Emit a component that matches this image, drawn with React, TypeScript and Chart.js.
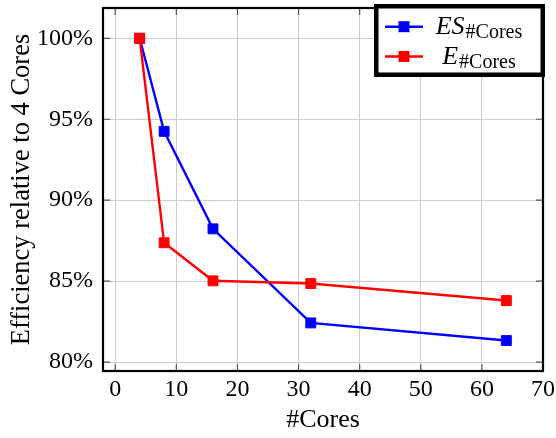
import React, { useEffect, useRef } from 'react';
import { Chart, registerables } from 'chart.js';

Chart.register(...registerables);

// ---- data ----
const cores = [4, 8, 16, 32, 64];
const esValues = [100, 94.25, 88.23, 82.42, 81.33];
const eValues = [100, 87.37, 85.02, 84.85, 83.8];
const xTicks = [0, 10, 20, 30, 40, 50, 60, 70];
const yTicks = [80, 85, 90, 95, 100];
const seriesMain = ['ES', 'E'];
const seriesSub = '#Cores';
const seriesColors = ['#0000ff', '#ff0000'];
const xTitle = '#Cores';
const yTitle = 'Efficiency relative to 4 Cores';

const FONT = "'Liberation Serif', 'Times New Roman', serif";

const framePlugin = {
  id: 'pgfFrame',
  beforeDatasetsDraw(chart: any) {
    const { ctx, chartArea: a, scales } = chart;
    ctx.save();
    ctx.strokeStyle = '#555';
    ctx.lineWidth = 1.2;
    const tl = 7;
    ctx.beginPath();
    for (const v of xTicks) {
      const px = scales.x.getPixelForValue(v);
      if (px <= a.left + 1 || px >= a.right - 1) continue;
      ctx.moveTo(px, a.bottom); ctx.lineTo(px, a.bottom - tl);
      ctx.moveTo(px, a.top); ctx.lineTo(px, a.top + tl);
    }
    for (const v of yTicks) {
      const py = scales.y.getPixelForValue(v);
      ctx.moveTo(a.left, py); ctx.lineTo(a.left + tl, py);
      ctx.moveTo(a.right, py); ctx.lineTo(a.right - tl, py);
    }
    ctx.stroke();
    ctx.restore();
  },
  afterDatasetsDraw(chart: any) {
    const { ctx, chartArea: a } = chart;
    ctx.save();
    ctx.strokeStyle = '#000';
    ctx.lineWidth = 2.2;
    ctx.strokeRect(a.left, a.top, a.right - a.left, a.bottom - a.top);
    ctx.restore();
  },
};

const legendPlugin = {
  id: 'texLegend',
  afterDraw(chart: any) {
    const { ctx } = chart;
    ctx.save();
    const x0 = 374, y0 = 4, x1 = 545, y1 = 77;
    const bw = 4.5;
    ctx.fillStyle = '#fff';
    ctx.fillRect(x0, y0, x1 - x0, y1 - y0);
    ctx.strokeStyle = '#000';
    ctx.lineWidth = bw;
    ctx.strokeRect(x0 + bw / 2, y0 + bw / 2, x1 - x0 - bw, y1 - y0 - bw);
    const rows = [26.7, 56.5];
    chart.data.datasets.forEach((ds: any, i: number) => {
      const ry = rows[i];
      ctx.strokeStyle = ds.borderColor;
      ctx.lineWidth = 2.4;
      ctx.beginPath();
      ctx.moveTo(385, ry);
      ctx.lineTo(423, ry);
      ctx.stroke();
      ctx.fillStyle = ds.borderColor;
      ctx.fillRect(404 - 5.5, ry - 5.5, 11, 11);
      const mainFont = `italic 26px ${FONT}`;
      const subFont = `20px ${FONT}`;
      ctx.font = mainFont;
      const mw = ctx.measureText(seriesMain[i]).width + 1;
      ctx.font = subFont;
      const sw = ctx.measureText(seriesSub).width;
      const start = 479 - (mw + sw) / 2;
      ctx.fillStyle = '#000';
      ctx.textBaseline = 'alphabetic';
      ctx.textAlign = 'left';
      ctx.font = mainFont;
      ctx.fillText(seriesMain[i], start, ry + 7.5);
      ctx.font = subFont;
      ctx.fillText(seriesSub, start + mw, ry + 11);
    });
    ctx.restore();
  },
};

export default function App() {
  const ref = useRef<HTMLCanvasElement | null>(null);
  useEffect(() => {
    document.body.style.margin = '0';
    const canvas = ref.current!;
    const chart = new Chart(canvas, {
      type: 'line',
      data: {
        datasets: [
          {
            label: seriesMain[0],
            data: cores.map((c, i) => ({ x: c, y: esValues[i] })),
            borderColor: seriesColors[0],
            backgroundColor: seriesColors[0],
            pointBackgroundColor: seriesColors[0],
            pointBorderColor: seriesColors[0],
            borderWidth: 2.4,
            pointStyle: 'rect',
            pointRadius: 7,
            pointBorderWidth: 1,
            tension: 0,
            order: 1,
          },
          {
            label: seriesMain[1],
            data: cores.map((c, i) => ({ x: c, y: eValues[i] })),
            borderColor: seriesColors[1],
            backgroundColor: seriesColors[1],
            pointBackgroundColor: seriesColors[1],
            pointBorderColor: seriesColors[1],
            borderWidth: 2.4,
            pointStyle: 'rect',
            pointRadius: 7,
            pointBorderWidth: 1,
            tension: 0,
            order: 0,
          },
        ],
      },
      options: {
        animation: false,
        responsive: false,
        devicePixelRatio: 1,
        layout: { padding: { top: 2, right: 13, left: 0, bottom: 0 } },
        plugins: { legend: { display: false }, tooltip: { enabled: false } },
        scales: {
          x: {
            type: 'linear',
            min: -2,
            max: 70,
            afterBuildTicks: (s: any) => { s.ticks = xTicks.map((v) => ({ value: v })); },
            afterFit: (s: any) => { s.height = 67; s.paddingLeft = 0; s.paddingRight = 0; },
            grid: { color: '#cccccc', lineWidth: 1, drawTicks: false },
            border: { display: false },
            ticks: {
              color: '#000',
              padding: 4,
              maxRotation: 0,
              font: { family: FONT, size: 24 },
              callback: (v: any) => String(v),
            },
            title: {
              display: true,
              text: xTitle,
              color: '#000',
              font: { family: FONT, size: 26 },
              padding: { top: 0, bottom: 2 },
            },
          },
          y: {
            type: 'linear',
            min: 79.45,
            max: 101.87,
            afterBuildTicks: (s: any) => { s.ticks = yTicks.map((v) => ({ value: v })); },
            afterFit: (s: any) => { s.width = 103; s.paddingTop = 0; s.paddingBottom = 0; },
            grid: { color: '#cccccc', lineWidth: 1, drawTicks: false },
            border: { display: false },
            ticks: {
              color: '#000',
              padding: 10,
              font: { family: FONT, size: 24 },
              callback: (v: any) => v + '%',
            },
            title: {
              display: true,
              text: yTitle,
              color: '#000',
              font: { family: FONT, size: 26.5 },
              padding: { top: 6, bottom: 0 },
            },
          },
        },
      },
      plugins: [framePlugin, legendPlugin],
    } as any);
    return () => chart.destroy();
  }, []);
  return (
    <div style={{ width: 556, height: 438 }}>
      <canvas ref={ref} width={556} height={438} style={{ display: 'block' }} />
    </div>
  );
}
